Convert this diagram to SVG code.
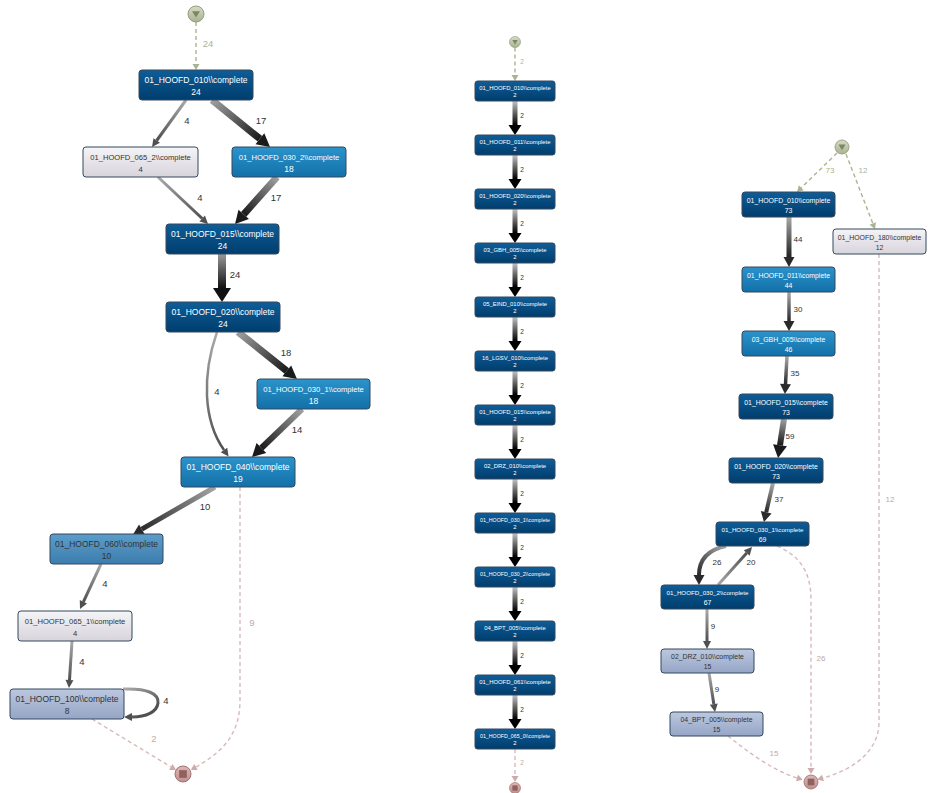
<svg xmlns="http://www.w3.org/2000/svg" width="928" height="793" viewBox="0 0 928 793">
<style>
text{font-family:"Liberation Sans",Arial,sans-serif;text-anchor:middle}
.nd{stroke:#34495e;stroke-width:1}
.dark{fill:url(#gDark)}
.med{fill:url(#gMed)}
.steel{fill:url(#gSteel)}
.light{fill:url(#gLight)}
.lav{fill:url(#gLav)}
.tw{fill:#ffffff}
.tk{fill:#333333}
.fL{font-size:8.5px}
.fLs{font-size:7.6px}
.fR{font-size:6.9px}
.fRs{font-size:6.2px}
.fM{font-size:5.9px}
.fMs{font-size:5.3px}
.e{fill:none}
.dg{fill:none;stroke:#aab494;stroke-width:1.4;stroke-dasharray:4 3}
.dp{fill:none;stroke:#d6baba;stroke-width:1.4;stroke-dasharray:4 3}
.el{fill:#333333}
.elg{fill:#a9b394}
.elp{fill:#c4a8a8}
.lL{font-size:9.5px}
.lR{font-size:8px}
.lM{font-size:6.5px}
</style>
<defs>
<linearGradient id="gDark" x1="0" y1="0" x2="0" y2="1"><stop offset="0" stop-color="#0f5d98"/><stop offset="1" stop-color="#003d6d"/></linearGradient>
<linearGradient id="gMed" x1="0" y1="0" x2="0" y2="1"><stop offset="0" stop-color="#2d93cb"/><stop offset="1" stop-color="#1270a8"/></linearGradient>
<linearGradient id="gSteel" x1="0" y1="0" x2="0" y2="1"><stop offset="0" stop-color="#5b9dca"/><stop offset="1" stop-color="#3c7dae"/></linearGradient>
<linearGradient id="gLight" x1="0" y1="0" x2="0" y2="1"><stop offset="0" stop-color="#f5f4f7"/><stop offset="1" stop-color="#d7d4dc"/></linearGradient>
<linearGradient id="gLav" x1="0" y1="0" x2="0" y2="1"><stop offset="0" stop-color="#bcc8df"/><stop offset="1" stop-color="#95a5c6"/></linearGradient>
<linearGradient id="gStart" x1="0" y1="0" x2="0" y2="1"><stop offset="0" stop-color="#d6dcc4"/><stop offset="1" stop-color="#a9b293"/></linearGradient>
<linearGradient id="gEnd" x1="0" y1="0" x2="0" y2="1"><stop offset="0" stop-color="#dfb6b4"/><stop offset="1" stop-color="#c48f8d"/></linearGradient>
<linearGradient id="gCol" gradientUnits="userSpaceOnUse" x1="0" y1="0" x2="0" y2="24"><stop offset="0" stop-color="#c4c4c4"/><stop offset="1" stop-color="#000000"/></linearGradient>
<linearGradient id="gL2" gradientUnits="userSpaceOnUse" x1="186" y1="100" x2="157" y2="140"><stop offset="0" stop-color="#aaaaaa"/><stop offset="1" stop-color="#505050"/></linearGradient>
<linearGradient id="gL3" gradientUnits="userSpaceOnUse" x1="212" y1="100" x2="260" y2="139"><stop offset="0" stop-color="#a0a0a0"/><stop offset="1" stop-color="#1a1a1a"/></linearGradient>
<linearGradient id="gL4" gradientUnits="userSpaceOnUse" x1="158" y1="177" x2="202" y2="218"><stop offset="0" stop-color="#aaaaaa"/><stop offset="1" stop-color="#505050"/></linearGradient>
<linearGradient id="gL5" gradientUnits="userSpaceOnUse" x1="277" y1="177" x2="244" y2="214"><stop offset="0" stop-color="#a0a0a0"/><stop offset="1" stop-color="#1a1a1a"/></linearGradient>
<linearGradient id="gL6" gradientUnits="userSpaceOnUse" x1="222" y1="254" x2="222" y2="288"><stop offset="0" stop-color="#9a9a9a"/><stop offset="1" stop-color="#111111"/></linearGradient>
<linearGradient id="gL7" gradientUnits="userSpaceOnUse" x1="238" y1="332" x2="287" y2="371"><stop offset="0" stop-color="#a0a0a0"/><stop offset="1" stop-color="#1a1a1a"/></linearGradient>
<linearGradient id="gL8" gradientUnits="userSpaceOnUse" x1="217" y1="332" x2="224" y2="450"><stop offset="0" stop-color="#aaaaaa"/><stop offset="1" stop-color="#505050"/></linearGradient>
<linearGradient id="gL9" gradientUnits="userSpaceOnUse" x1="302" y1="409" x2="261" y2="448"><stop offset="0" stop-color="#a0a0a0"/><stop offset="1" stop-color="#1a1a1a"/></linearGradient>
<linearGradient id="gL10" gradientUnits="userSpaceOnUse" x1="215" y1="487" x2="142" y2="529"><stop offset="0" stop-color="#a5a5a5"/><stop offset="1" stop-color="#2a2a2a"/></linearGradient>
<linearGradient id="gL12" gradientUnits="userSpaceOnUse" x1="101" y1="564" x2="83" y2="602"><stop offset="0" stop-color="#aaaaaa"/><stop offset="1" stop-color="#505050"/></linearGradient>
<linearGradient id="gL13" gradientUnits="userSpaceOnUse" x1="72" y1="641" x2="69.5" y2="680"><stop offset="0" stop-color="#aaaaaa"/><stop offset="1" stop-color="#505050"/></linearGradient>
<linearGradient id="gL14" gradientUnits="userSpaceOnUse" x1="123" y1="689" x2="140" y2="717"><stop offset="0" stop-color="#aaaaaa"/><stop offset="1" stop-color="#505050"/></linearGradient>
<linearGradient id="gR3" gradientUnits="userSpaceOnUse" x1="789" y1="217" x2="789" y2="257"><stop offset="0" stop-color="#a8a8a8"/><stop offset="1" stop-color="#222222"/></linearGradient>
<linearGradient id="gR4" gradientUnits="userSpaceOnUse" x1="789" y1="292" x2="789" y2="321"><stop offset="0" stop-color="#aaaaaa"/><stop offset="1" stop-color="#2a2a2a"/></linearGradient>
<linearGradient id="gR5" gradientUnits="userSpaceOnUse" x1="787" y1="356" x2="785.5" y2="384"><stop offset="0" stop-color="#aaaaaa"/><stop offset="1" stop-color="#2a2a2a"/></linearGradient>
<linearGradient id="gR6" gradientUnits="userSpaceOnUse" x1="784" y1="419" x2="780" y2="445"><stop offset="0" stop-color="#a0a0a0"/><stop offset="1" stop-color="#1a1a1a"/></linearGradient>
<linearGradient id="gR7" gradientUnits="userSpaceOnUse" x1="773" y1="483" x2="766" y2="512"><stop offset="0" stop-color="#aaaaaa"/><stop offset="1" stop-color="#2a2a2a"/></linearGradient>
<linearGradient id="gR8" gradientUnits="userSpaceOnUse" x1="726" y1="546" x2="699" y2="575"><stop offset="0" stop-color="#aaaaaa"/><stop offset="1" stop-color="#2a2a2a"/></linearGradient>
<linearGradient id="gR9" gradientUnits="userSpaceOnUse" x1="718" y1="585" x2="747" y2="553"><stop offset="0" stop-color="#aaaaaa"/><stop offset="1" stop-color="#505050"/></linearGradient>
<linearGradient id="gR10" gradientUnits="userSpaceOnUse" x1="707" y1="609" x2="707" y2="641"><stop offset="0" stop-color="#aaaaaa"/><stop offset="1" stop-color="#505050"/></linearGradient>
<linearGradient id="gR11" gradientUnits="userSpaceOnUse" x1="709" y1="673" x2="714" y2="704"><stop offset="0" stop-color="#aaaaaa"/><stop offset="1" stop-color="#505050"/></linearGradient>
<marker id="mS" markerUnits="userSpaceOnUse" markerWidth="10" markerHeight="10" refX="0" refY="0" orient="auto" overflow="visible"><path d="M0,-4 L8,0 L0,4 z" fill="#505050"/></marker>
<marker id="mM" markerUnits="userSpaceOnUse" markerWidth="12" markerHeight="12" refX="0" refY="0" orient="auto" overflow="visible"><path d="M0,-5.5 L10,0 L0,5.5 z" fill="#2a2a2a"/></marker>
<marker id="mL" markerUnits="userSpaceOnUse" markerWidth="16" markerHeight="16" refX="0" refY="0" orient="auto" overflow="visible"><path d="M0,-7 L13,0 L0,7 z" fill="#1a1a1a"/></marker>
<marker id="mXL" markerUnits="userSpaceOnUse" markerWidth="18" markerHeight="18" refX="0" refY="0" orient="auto" overflow="visible"><path d="M0,-9 L14,0 L0,9 z" fill="#111111"/></marker>
<marker id="mC" markerUnits="userSpaceOnUse" markerWidth="14" markerHeight="14" refX="0" refY="0" orient="auto" overflow="visible"><path d="M0,-6.5 L10,0 L0,6.5 z" fill="#000000"/></marker>
<marker id="mG" markerUnits="userSpaceOnUse" markerWidth="8" markerHeight="8" refX="0" refY="0" orient="auto" overflow="visible"><path d="M0,-3.5 L6,0 L0,3.5 z" fill="#a9b394"/></marker>
<marker id="mP" markerUnits="userSpaceOnUse" markerWidth="8" markerHeight="8" refX="0" refY="0" orient="auto" overflow="visible"><path d="M0,-3.5 L6,0 L0,3.5 z" fill="#cfaaaa"/></marker>
<g id="startSym"><circle r="1" fill="url(#gStart)" stroke="#8f9a78" stroke-width="0.12"/><path d="M-0.5,-0.35 L0.5,-0.35 L0,0.45 z" fill="#7a8664"/></g>
<g id="endSym"><circle r="1" fill="url(#gEnd)" stroke="#9c6f6d" stroke-width="0.12"/><rect x="-0.48" y="-0.48" width="0.96" height="0.96" fill="#8d6261"/></g>
</defs>

<rect width="928" height="793" fill="#ffffff"/>

<g id="connectors">
<!-- left graph -->
<path class="dg" d="M196,22 L196,64" marker-end="url(#mG)"/>
<path class="e" d="M186,100 L156.7,140.5" stroke="url(#gL2)" stroke-width="3" marker-end="url(#mS)"/>
<path class="e" d="M212,100 L259.9,138.8" stroke="url(#gL3)" stroke-width="7" marker-end="url(#mL)"/>
<path class="e" d="M158,177 L202.2,218.5" stroke="url(#gL4)" stroke-width="3" marker-end="url(#mS)"/>
<path class="e" d="M277,177 L243.7,214.3" stroke="url(#gL5)" stroke-width="7" marker-end="url(#mL)"/>
<path class="e" d="M222,254 L222,288" stroke="url(#gL6)" stroke-width="8" marker-end="url(#mXL)"/>
<path class="e" d="M238,332 L286.8,370.9" stroke="url(#gL7)" stroke-width="7" marker-end="url(#mL)"/>
<path class="e" d="M217,332 C202,375 203,420 224,450" stroke="url(#gL8)" stroke-width="2.5" marker-end="url(#mS)"/>
<path class="e" d="M302,409 L261.4,448" stroke="url(#gL9)" stroke-width="6" marker-end="url(#mL)"/>
<path class="e" d="M215,487 L141.8,529.2" stroke="url(#gL10)" stroke-width="5" marker-end="url(#mM)"/>
<path class="dp" d="M240,487 L240,700 C240,735 222,752 196,767" marker-end="url(#mP)"/>
<path class="e" d="M101,564 L83.4,601.8" stroke="url(#gL12)" stroke-width="3" marker-end="url(#mS)"/>
<path class="e" d="M72,641 L69.5,680" stroke="url(#gL13)" stroke-width="3" marker-end="url(#mS)"/>
<path class="e" d="M123,689 C148,688 159,694 158,703 C157,712 146,717 132,717" stroke="url(#gL14)" stroke-width="3" marker-end="url(#mS)"/>
<path class="dp" d="M92,719 L170.9,766.9" marker-end="url(#mP)"/>
<text class="elg lL" x="208" y="47">24</text>
<text class="el lL" x="187" y="124">4</text>
<text class="el lL" x="261" y="124">17</text>
<text class="el lL" x="200" y="201">4</text>
<text class="el lL" x="276" y="201">17</text>
<text class="el lL" x="235" y="278">24</text>
<text class="el lL" x="286" y="356">18</text>
<text class="el lL" x="217" y="395">4</text>
<text class="el lL" x="297" y="433">14</text>
<text class="el lL" x="205" y="510">10</text>
<text class="elp lL" x="252" y="626">9</text>
<text class="el lL" x="105" y="587">4</text>
<text class="el lL" x="82" y="665">4</text>
<text class="el lL" x="166" y="704">4</text>
<text class="elp lL" x="154" y="742">2</text>

<!-- middle column -->
<path class="dg" d="M515,47.5 L515,75" marker-end="url(#mG)"/>
<text class="elg lM" x="522" y="64">2</text>
<g id="colEdges">
<path class="e" transform="translate(515,101)" d="M0,0 L0,24" stroke="url(#gCol)" stroke-width="5" marker-end="url(#mC)"/>
<path class="e" transform="translate(515,155)" d="M0,0 L0,24" stroke="url(#gCol)" stroke-width="5" marker-end="url(#mC)"/>
<path class="e" transform="translate(515,209)" d="M0,0 L0,24" stroke="url(#gCol)" stroke-width="5" marker-end="url(#mC)"/>
<path class="e" transform="translate(515,263)" d="M0,0 L0,24" stroke="url(#gCol)" stroke-width="5" marker-end="url(#mC)"/>
<path class="e" transform="translate(515,317)" d="M0,0 L0,24" stroke="url(#gCol)" stroke-width="5" marker-end="url(#mC)"/>
<path class="e" transform="translate(515,371)" d="M0,0 L0,24" stroke="url(#gCol)" stroke-width="5" marker-end="url(#mC)"/>
<path class="e" transform="translate(515,425)" d="M0,0 L0,24" stroke="url(#gCol)" stroke-width="5" marker-end="url(#mC)"/>
<path class="e" transform="translate(515,479)" d="M0,0 L0,24" stroke="url(#gCol)" stroke-width="5" marker-end="url(#mC)"/>
<path class="e" transform="translate(515,533)" d="M0,0 L0,24" stroke="url(#gCol)" stroke-width="5" marker-end="url(#mC)"/>
<path class="e" transform="translate(515,587)" d="M0,0 L0,24" stroke="url(#gCol)" stroke-width="5" marker-end="url(#mC)"/>
<path class="e" transform="translate(515,641)" d="M0,0 L0,24" stroke="url(#gCol)" stroke-width="5" marker-end="url(#mC)"/>
<path class="e" transform="translate(515,695)" d="M0,0 L0,24" stroke="url(#gCol)" stroke-width="5" marker-end="url(#mC)"/>
</g>
<text class="el lM" x="522" y="118">2</text>
<text class="el lM" x="522" y="172">2</text>
<text class="el lM" x="522" y="226">2</text>
<text class="el lM" x="522" y="280">2</text>
<text class="el lM" x="522" y="334">2</text>
<text class="el lM" x="522" y="388">2</text>
<text class="el lM" x="522" y="442">2</text>
<text class="el lM" x="522" y="496">2</text>
<text class="el lM" x="522" y="550">2</text>
<text class="el lM" x="522" y="604">2</text>
<text class="el lM" x="522" y="658">2</text>
<text class="el lM" x="522" y="712">2</text>
<path class="dp" d="M515,749 L515,776" marker-end="url(#mP)"/>
<text class="elp lM" x="522" y="765">2</text>

<!-- right graph -->
<path class="dg" d="M837,153 L801.3,187.8" marker-end="url(#mG)"/>
<path class="dg" d="M846,154 L872.8,223.4" marker-end="url(#mG)"/>
<path class="e" d="M789,217 L789,257" stroke="url(#gR3)" stroke-width="5" marker-end="url(#mM)"/>
<path class="e" d="M789,292 L789,321" stroke="url(#gR4)" stroke-width="3.5" marker-end="url(#mM)"/>
<path class="e" d="M787,356 L785.5,384" stroke="url(#gR5)" stroke-width="3.5" marker-end="url(#mM)"/>
<path class="e" d="M784,419 L780,445.2" stroke="url(#gR6)" stroke-width="6" marker-end="url(#mL)"/>
<path class="e" d="M773,483 L766.2,512.3" stroke="url(#gR7)" stroke-width="4" marker-end="url(#mM)"/>
<path class="e" d="M726,546 C707,550 699,561 699,575" stroke="url(#gR8)" stroke-width="4" marker-end="url(#mM)"/>
<path class="e" d="M718,585 L746.7,553" stroke="url(#gR9)" stroke-width="3" marker-end="url(#mS)"/>
<path class="e" d="M707,609 L707,641" stroke="url(#gR10)" stroke-width="3" marker-end="url(#mS)"/>
<path class="e" d="M709,673 L713.8,704.1" stroke="url(#gR11)" stroke-width="3" marker-end="url(#mS)"/>
<path class="dp" d="M777,546 C800,556 811,572 811,600 L811,768" marker-end="url(#mP)"/>
<path class="dp" d="M879,254 L879,722 C879,752 852,770 823,778" marker-end="url(#mP)"/>
<path class="dp" d="M728,736 C748,752 772,770 797,778" marker-end="url(#mP)"/>
<text class="elg lR" x="830" y="173">73</text>
<text class="elg lR" x="863" y="173">12</text>
<text class="el lR" x="798" y="242">44</text>
<text class="el lR" x="798" y="312">30</text>
<text class="el lR" x="795" y="376">35</text>
<text class="el lR" x="790" y="439">59</text>
<text class="el lR" x="779" y="502">37</text>
<text class="el lR" x="717" y="565">26</text>
<text class="el lR" x="751" y="565">20</text>
<text class="el lR" x="713" y="629">9</text>
<text class="el lR" x="717" y="692">9</text>
<text class="elp lR" x="890" y="502">12</text>
<text class="elp lR" x="821" y="661">26</text>
<text class="elp lR" x="774" y="756">15</text>
</g>

<!-- start / end events -->
<g id="l_start"><use href="#startSym" transform="translate(196,14) scale(8)"/></g>
<g id="l_end"><use href="#endSym" transform="translate(183,774) scale(8)"/></g>
<g id="m_start"><use href="#startSym" transform="translate(515,42) scale(5.5)"/></g>
<g id="m_end"><use href="#endSym" transform="translate(515,788) scale(5.5)"/></g>
<g id="r_start"><use href="#startSym" transform="translate(842,147) scale(7)"/></g>
<g id="r_end"><use href="#endSym" transform="translate(811,782) scale(7)"/></g>

<!-- left graph nodes -->
<g id="l_010"><rect class="nd dark" x="139" y="70" width="114" height="30" rx="3"/><text class="tw fL" x="196" y="83">01_HOOFD_010\\complete</text><text class="tw fL" x="196" y="94.5">24</text></g>
<g id="l_065_2"><rect class="nd light" x="83" y="147" width="115" height="30" rx="3"/><text class="tk fLs" x="140.5" y="160">01_HOOFD_065_2\\complete</text><text class="tk fLs" x="140.5" y="171.5">4</text></g>
<g id="l_030_2"><rect class="nd med" x="232" y="147" width="114" height="30" rx="3"/><text class="tw fLs" x="289" y="160">01_HOOFD_030_2\\complete</text><text class="tw fL" x="289" y="171.5">18</text></g>
<g id="l_015"><rect class="nd dark" x="166" y="224" width="113" height="30" rx="3"/><text class="tw fL" x="222.5" y="237">01_HOOFD_015\\complete</text><text class="tw fL" x="222.5" y="248.5">24</text></g>
<g id="l_020"><rect class="nd dark" x="166" y="302" width="114" height="30" rx="3"/><text class="tw fL" x="223" y="315">01_HOOFD_020\\complete</text><text class="tw fL" x="223" y="326.5">24</text></g>
<g id="l_030_1"><rect class="nd med" x="257" y="379" width="113" height="30" rx="3"/><text class="tw fLs" x="313.5" y="392">01_HOOFD_030_1\\complete</text><text class="tw fL" x="313.5" y="403.5">18</text></g>
<g id="l_040"><rect class="nd med" x="181" y="457" width="114" height="30" rx="3"/><text class="tw fL" x="238" y="470">01_HOOFD_040\\complete</text><text class="tw fL" x="238" y="481.5">19</text></g>
<g id="l_060"><rect class="nd steel" x="50" y="534" width="113" height="30" rx="3"/><text class="tk fL" x="106.5" y="547">01_HOOFD_060\\complete</text><text class="tk fL" x="106.5" y="558.5">10</text></g>
<g id="l_065_1"><rect class="nd light" x="18" y="611" width="114" height="30" rx="3"/><text class="tk fLs" x="75" y="624">01_HOOFD_065_1\\complete</text><text class="tk fLs" x="75" y="635.5">4</text></g>
<g id="l_100"><rect class="nd lav" x="10" y="689" width="114" height="30" rx="3"/><text class="tk fL" x="67" y="702">01_HOOFD_100\\complete</text><text class="tk fL" x="67" y="713.5">8</text></g>

<!-- middle column nodes -->
<g id="m_010"><rect class="nd dark" x="475" y="81" width="80" height="20" rx="2.5"/><text class="tw fM" x="515" y="89.8">01_HOOFD_010\\complete</text><text class="tw fM" x="515" y="97.2">2</text></g>
<g id="m_011"><rect class="nd dark" x="475" y="135" width="80" height="20" rx="2.5"/><text class="tw fM" x="515" y="143.8">01_HOOFD_011\\complete</text><text class="tw fM" x="515" y="151.2">2</text></g>
<g id="m_020"><rect class="nd dark" x="475" y="189" width="80" height="20" rx="2.5"/><text class="tw fM" x="515" y="197.8">01_HOOFD_020\\complete</text><text class="tw fM" x="515" y="205.2">2</text></g>
<g id="m_gbh005"><rect class="nd dark" x="475" y="243" width="80" height="20" rx="2.5"/><text class="tw fM" x="515" y="251.8">03_GBH_005\\complete</text><text class="tw fM" x="515" y="259.2">2</text></g>
<g id="m_eind010"><rect class="nd dark" x="475" y="297" width="80" height="20" rx="2.5"/><text class="tw fM" x="515" y="305.8">05_EIND_010\\complete</text><text class="tw fM" x="515" y="313.2">2</text></g>
<g id="m_lgsv010"><rect class="nd dark" x="475" y="351" width="80" height="20" rx="2.5"/><text class="tw fM" x="515" y="359.8">16_LGSV_010\\complete</text><text class="tw fM" x="515" y="367.2">2</text></g>
<g id="m_015"><rect class="nd dark" x="475" y="405" width="80" height="20" rx="2.5"/><text class="tw fM" x="515" y="413.8">01_HOOFD_015\\complete</text><text class="tw fM" x="515" y="421.2">2</text></g>
<g id="m_drz010"><rect class="nd dark" x="475" y="459" width="80" height="20" rx="2.5"/><text class="tw fM" x="515" y="467.8">02_DRZ_010\\complete</text><text class="tw fM" x="515" y="475.2">2</text></g>
<g id="m_030_1"><rect class="nd dark" x="475" y="513" width="80" height="20" rx="2.5"/><text class="tw fMs" x="515" y="521.8">01_HOOFD_030_1\\complete</text><text class="tw fM" x="515" y="529.2">2</text></g>
<g id="m_030_2"><rect class="nd dark" x="475" y="567" width="80" height="20" rx="2.5"/><text class="tw fMs" x="515" y="575.8">01_HOOFD_030_2\\complete</text><text class="tw fM" x="515" y="583.2">2</text></g>
<g id="m_bpt005"><rect class="nd dark" x="475" y="621" width="80" height="20" rx="2.5"/><text class="tw fM" x="515" y="629.8">04_BPT_005\\complete</text><text class="tw fM" x="515" y="637.2">2</text></g>
<g id="m_061"><rect class="nd dark" x="475" y="675" width="80" height="20" rx="2.5"/><text class="tw fM" x="515" y="683.8">01_HOOFD_061\\complete</text><text class="tw fM" x="515" y="691.2">2</text></g>
<g id="m_065_0"><rect class="nd dark" x="475" y="729" width="80" height="20" rx="2.5"/><text class="tw fMs" x="515" y="737.8">01_HOOFD_065_0\\complete</text><text class="tw fM" x="515" y="745.2">2</text></g>

<!-- right graph nodes -->
<g id="r_010"><rect class="nd dark" x="742" y="192" width="93" height="25" rx="3"/><text class="tw fR" x="788.5" y="202.5">01_HOOFD_010\\complete</text><text class="tw fR" x="788.5" y="212.5">73</text></g>
<g id="r_180"><rect class="nd light" x="833" y="229" width="93" height="25" rx="3"/><text class="tk fR" x="879.5" y="239.5">01_HOOFD_180\\complete</text><text class="tk fR" x="879.5" y="249.5">12</text></g>
<g id="r_011"><rect class="nd med" x="742" y="267" width="93" height="25" rx="3"/><text class="tw fR" x="788.5" y="277.5">01_HOOFD_011\\complete</text><text class="tw fR" x="788.5" y="287.5">44</text></g>
<g id="r_gbh005"><rect class="nd med" x="742" y="331" width="93" height="25" rx="3"/><text class="tw fR" x="788.5" y="341.5">03_GBH_005\\complete</text><text class="tw fR" x="788.5" y="351.5">46</text></g>
<g id="r_015"><rect class="nd dark" x="739" y="394" width="94" height="25" rx="3"/><text class="tw fR" x="786" y="404.5">01_HOOFD_015\\complete</text><text class="tw fR" x="786" y="414.5">73</text></g>
<g id="r_020"><rect class="nd dark" x="729" y="458" width="94" height="25" rx="3"/><text class="tw fR" x="776" y="468.5">01_HOOFD_020\\complete</text><text class="tw fR" x="776" y="478.5">73</text></g>
<g id="r_030_1"><rect class="nd dark" x="716" y="522" width="93" height="24" rx="3"/><text class="tw fRs" x="762.5" y="532">01_HOOFD_030_1\\complete</text><text class="tw fR" x="762.5" y="542">69</text></g>
<g id="r_030_2"><rect class="nd dark" x="661" y="585" width="93" height="24" rx="3"/><text class="tw fRs" x="707.5" y="595">01_HOOFD_030_2\\complete</text><text class="tw fR" x="707.5" y="605">67</text></g>
<g id="r_drz010"><rect class="nd lav" x="661" y="649" width="93" height="24" rx="3"/><text class="tk fR" x="707.5" y="659">02_DRZ_010\\complete</text><text class="tk fR" x="707.5" y="669">15</text></g>
<g id="r_bpt005"><rect class="nd lav" x="670" y="712" width="93" height="24" rx="3"/><text class="tk fR" x="716.5" y="722">04_BPT_005\\complete</text><text class="tk fR" x="716.5" y="732">15</text></g>
</svg>
